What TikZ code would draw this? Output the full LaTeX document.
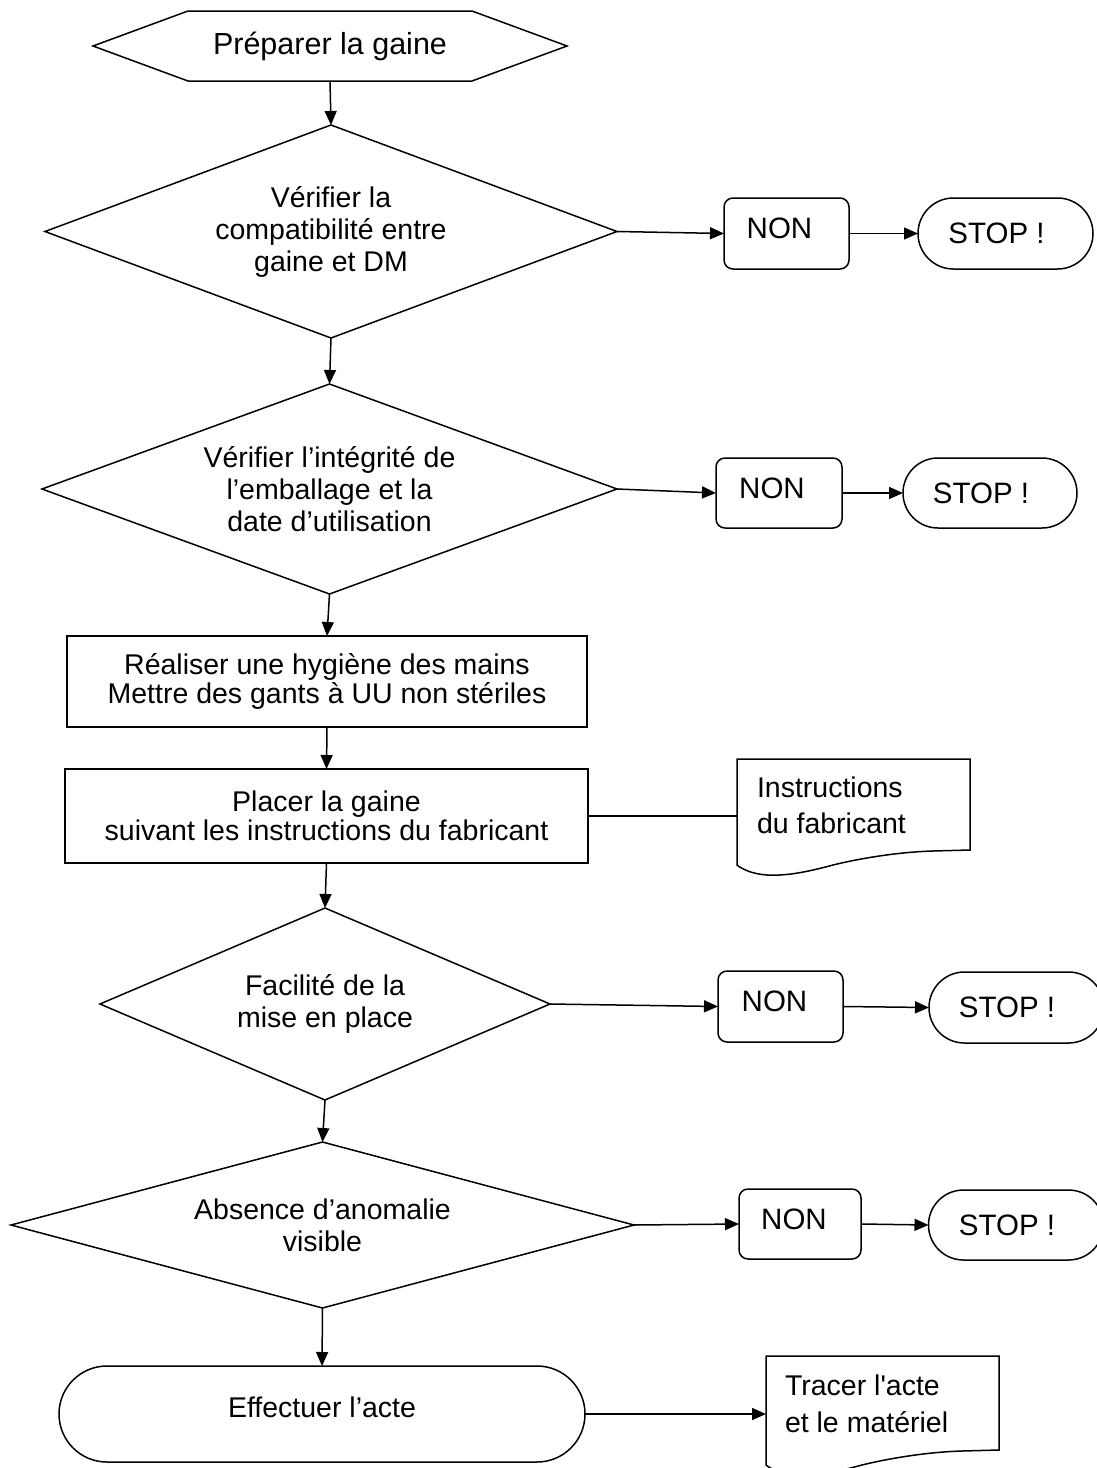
\documentclass[tikz,border=0pt]{standalone}
\usepackage{fontspec}
\setmainfont{Liberation Sans}[Ligatures=TeXOff]
\usetikzlibrary{shapes.geometric,shapes.misc,arrows.meta,calc}
\newcommand\docpath[1]{%
  \draw[ln] ($(#1.south west)+(0,15)$) -- (#1.north west) -- (#1.north east) -- (#1.south east)
    -- ($(#1.south west)+(196,1)$)
    .. controls ($(#1.south west)+(160,2)$) and ($(#1.south west)+(120,9)$) .. ($(#1.south west)+(96,15)$)
    .. controls ($(#1.south west)+(70,22)$) and ($(#1.south west)+(50,26)$) .. ($(#1.south west)+(30,25)$)
    .. controls ($(#1.south west)+(15,24)$) and ($(#1.south west)+(5,19)$) .. ($(#1.south west)+(0,15)$) -- cycle;}
\begin{document}
\begin{tikzpicture}[x=1pt,y=-1pt,
  every node/.style={font=\fontsize{28.5}{32}\selectfont, inner sep=0pt, outer sep=0pt, align=center},
  ln/.style={line width=1.5pt, line join=miter},
  arr/.style={ln, -{Triangle[length=14pt,width=12pt]}},
  dia/.style={diamond, draw, ln},
  procbox/.style={rectangle, draw, ln, font=\fontsize{28.5}{29}\selectfont},
  nonbox/.style={rectangle, draw, ln, rounded corners=9pt},
  stopbox/.style={rounded rectangle, draw, ln},
  lbl/.style={font=\fontsize{29.5}{32}\selectfont},
  doctext/.style={anchor=west, align=left, font=\fontsize{28.5}{36}\selectfont},
  plain/.style={rectangle, draw=none}
]
\useasboundingbox (0,0) rectangle (1096,1468);

% start hexagon
\node[plain, minimum width=474pt, minimum height=70pt, font=\fontsize{30.5}{34}\selectfont] (hex) at (330,46) {Préparer la gaine};
\draw[ln] (hex.west) -- ($(hex.north west)+(95,0)$) -- ($(hex.north east)+(-95,0)$) -- (hex.east)
  -- ($(hex.south east)+(-95,0)$) -- ($(hex.south west)+(95,0)$) -- cycle;

% decision 1
\node[dia, minimum width=572pt, minimum height=213pt, aspect=2.69] (d1) at (331,231.5) {Vérifier la\\compatibilité entre\\gaine et DM};
\node[nonbox, minimum width=125pt, minimum height=71pt] (n1) at (786.5,233.5) {};
\node[lbl] (n1t) at (779.5,228.5) {NON};
\node[stopbox, minimum width=175pt, minimum height=71pt] (s1) at (1005.5,233.5) {};
\node[lbl] (s1t) at (996.5,233.5) {STOP !};

% decision 2
\node[dia, minimum width=575pt, minimum height=210pt, aspect=2.74] (d2) at (329.5,489) {Vérifier l’intégrité de\\l’emballage et la\\date d’utilisation};
\node[nonbox, minimum width=126pt, minimum height=70pt] (n2) at (779,493) {};
\node[lbl] (n2t) at (772,488) {NON};
\node[stopbox, minimum width=174pt, minimum height=70pt] (s2) at (990,493) {};
\node[lbl] (s2t) at (981,493) {STOP !};

% process boxes
\node[procbox, minimum width=520pt, minimum height=91pt] (b1) at (327,681.5) {Réaliser une hygiène des mains\\Mettre des gants à UU non stériles};
\node[procbox, minimum width=523pt, minimum height=94pt] (b2) at (326.5,816) {Placer la gaine\\suivant les instructions du fabricant};

% document 1
\node[plain, minimum width=233pt, minimum height=91pt] (doc1) at (853.5,804.5) {};
\docpath{doc1}
\node[doctext] (doc1t) at (757,805) {Instructions\\du fabricant};

% decision 3
\node[dia, minimum width=450pt, minimum height=192pt, aspect=2.34] (d3) at (325,1004) {Facilité de la\\mise en place};
\node[nonbox, minimum width=125pt, minimum height=71pt] (n3) at (780.5,1006.5) {};
\node[lbl] (n3t) at (774.5,1001.5) {NON};
\node[stopbox, minimum width=175pt, minimum height=71pt] (s3) at (1016.5,1007.5) {};
\node[lbl] (s3t) at (1007,1007.5) {STOP !};

% decision 4
\node[dia, minimum width=623pt, minimum height=166pt, aspect=3.75] (d4) at (322.5,1225) {Absence d’anomalie\\visible};
\node[nonbox, minimum width=122pt, minimum height=70pt] (n4) at (800,1224) {};
\node[lbl] (n4t) at (794,1219) {NON};
\node[stopbox, minimum width=175pt, minimum height=70pt] (s4) at (1016,1225) {};
\node[lbl] (s4t) at (1007,1225) {STOP !};

% end terminal
\node[stopbox, minimum width=526pt, minimum height=96pt] (eff) at (322,1414) {};
\node (efft) at (322,1407) {Effectuer l’acte};

% document 2
\node[plain, minimum width=233pt, minimum height=94pt] (doc2) at (882.5,1403) {};
\docpath{doc2}
\node[doctext, font=\fontsize{28.5}{37}\selectfont] (doc2t) at (785,1403.5) {Tracer l'acte\\et le matériel};

% connectors
\draw[arr] (hex.south) -- (d1.north);
\draw[arr] (d1.east) -- (n1.west);
\draw[arr] (n1.east) -- (s1.west);
\draw[arr] (d1.south) -- (d2.north);
\draw[arr] (d2.east) -- (n2.west);
\draw[arr] (n2.east) -- (s2.west);
\draw[arr] (d2.south) -- (b1.north);
\draw[arr] (b1.south) -- (b2.north);
\draw[ln] (b2.east) -- (b2.east -| doc1.west);
\draw[arr] (b2.south) -- (d3.north);
\draw[arr] (d3.east) -- (n3.west);
\draw[arr] (n3.east) -- (s3.west);
\draw[arr] (d3.south) -- (d4.north);
\draw[arr] (d4.east) -- (n4.west);
\draw[arr] (n4.east) -- (s4.west);
\draw[arr] (d4.south) -- (eff.north);
\draw[arr] (eff.east) -- (eff.east -| doc2.west);
\end{tikzpicture}
\end{document}
